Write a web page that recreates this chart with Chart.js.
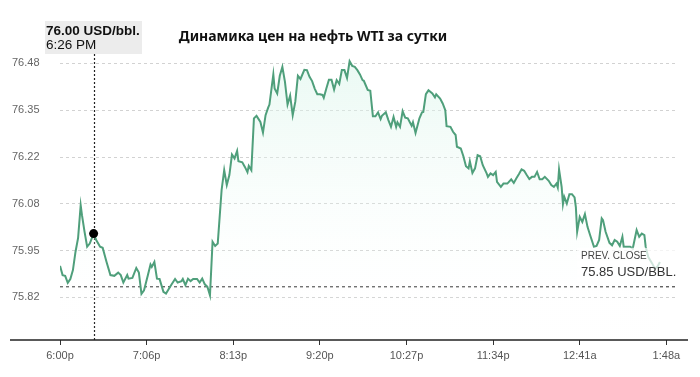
<!DOCTYPE html>
<html>
<head>
<meta charset="utf-8">
<script src="https://cdn.jsdelivr.net/npm/chart.js@4.4.0/dist/chart.umd.min.js"></script>
<style>
  html, body { margin: 0; padding: 0; background: #fff; }
  #wrap { width: 700px; height: 377px; position: relative; }
</style>
</head>
<body>
<div id="wrap"><canvas id="oilChart"></canvas></div>
<script>
// minutes after 6:00 PM
const minutes = [
  0, 2, 4, 6, 8, 10, 12, 14, 16, 17,
  19, 21, 23, 26, 28, 31, 33, 36, 39, 42,
  45, 47, 49, 52, 53, 56, 59, 61, 63, 65,
  68, 70, 71, 73, 75, 77, 80, 82, 84, 86,
  89, 91, 94, 95, 97, 99, 101, 103, 106, 108,
  110, 112, 114, 116, 118, 120, 122, 125, 127, 129,
  131, 133, 135, 137, 138, 141, 143, 145, 146, 148,
  150, 152, 155, 157, 159, 161, 162, 165, 166, 168,
  170, 172, 174, 176, 178, 180, 182, 184, 186, 189,
  191, 193, 195, 197, 199, 201, 203, 204, 206, 208,
  210, 212, 214, 216, 218, 220, 222, 224, 226, 228,
  230, 232, 234, 235, 238, 240, 242, 244, 246, 248,
  249, 252, 254, 256, 258, 260, 261, 263, 265, 267,
  269, 272, 273, 275, 278, 280, 281, 283, 285, 288,
  290, 291, 294, 296, 298, 299, 302, 304, 306, 307,
  310, 312, 314, 316, 317, 319, 321, 323, 325, 327,
  330, 331, 333, 335, 337, 338, 341, 343, 346, 349,
  351, 353, 355, 357, 359, 361, 363, 365, 367, 369,
  371, 373, 375, 378, 380, 382, 384, 385, 386, 388,
  389, 390, 392, 394, 396, 398, 399, 400, 402, 404,
  406, 408, 410, 413, 415, 417, 419, 420, 422, 425,
  427, 429, 431, 433, 435, 436, 439, 441, 443, 446,
  448, 450, 452, 453, 455, 458, 460, 462, 464
];

// USD per barrel
const prices = [
  75.909, 75.883, 75.881, 75.861, 75.872, 75.897, 75.949, 75.988, 76.080, 76.052,
  76.005, 75.963, 75.972, 76.000, 75.982, 75.963, 75.960, 75.920, 75.883, 75.881,
  75.890, 75.883, 75.862, 75.883, 75.873, 75.875, 75.903, 75.890, 75.830, 75.840,
  75.883, 75.913, 75.906, 75.920, 75.873, 75.872, 75.836, 75.831, 75.843, 75.855,
  75.872, 75.862, 75.866, 75.872, 75.855, 75.873, 75.866, 75.872, 75.872, 75.862,
  75.873, 75.857, 75.850, 75.826, 75.977, 75.965, 75.972, 76.123, 76.179, 76.137,
  76.165, 76.223, 76.212, 76.233, 76.204, 76.201, 76.188, 76.173, 76.191, 76.179,
  76.325, 76.332, 76.315, 76.285, 76.334, 76.355, 76.364, 76.449, 76.409, 76.395,
  76.445, 76.470, 76.428, 76.364, 76.389, 76.334, 76.372, 76.445, 76.436, 76.462,
  76.461, 76.442, 76.430, 76.409, 76.393, 76.393, 76.391, 76.383, 76.409, 76.434,
  76.434, 76.406, 76.433, 76.422, 76.461, 76.461, 76.439, 76.486, 76.473, 76.470,
  76.461, 76.449, 76.433, 76.431, 76.405, 76.403, 76.331, 76.331, 76.342, 76.323,
  76.332, 76.342, 76.320, 76.301, 76.329, 76.301, 76.314, 76.301, 76.345, 76.327,
  76.325, 76.304, 76.314, 76.284, 76.325, 76.342, 76.343, 76.393, 76.404, 76.395,
  76.384, 76.393, 76.381, 76.367, 76.348, 76.303, 76.301, 76.287, 76.278, 76.245,
  76.240, 76.218, 76.190, 76.184, 76.204, 76.171, 76.184, 76.221, 76.218, 76.193,
  76.170, 76.160, 76.170, 76.165, 76.174, 76.146, 76.132, 76.141, 76.141, 76.153,
  76.143, 76.156, 76.168, 76.181, 76.177, 76.165, 76.154, 76.160, 76.160, 76.174,
  76.153, 76.153, 76.160, 76.149, 76.137, 76.132, 76.141, 76.130, 76.181, 76.132,
  76.083, 76.104, 76.085, 76.111, 76.111, 76.102, 76.075, 76.005, 76.047, 76.033,
  76.055, 76.019, 75.996, 75.963, 75.965, 75.982, 76.043, 76.038, 76.005, 75.974,
  75.967, 75.982, 75.977, 75.965, 75.991, 75.963, 75.963, 75.963, 75.958, 76.010,
  75.991, 76.000, 75.996, 75.963, 75.934, 75.916, 75.902, 75.906, 75.920
];

const xTickValues = [0, 67, 134, 201, 268, 335, 402, 469];
const xTickLabels = ['6:00p', '7:06p', '8:13p', '9:20p', '10:27p', '11:34p', '12:41a', '1:48a'];
const yTickValues = [75.82, 75.952, 76.084, 76.216, 76.348, 76.48];

const chartTitle = 'Динамика цен на нефть WTI за сутки';
const prevClose = 75.85;
const activeIndex = 13;          // 6:26 PM point
const activeTimeLabel = '6:26 PM';

const fontFamily = '"Liberation Sans", Arial, sans-serif';
const lineColor = '#4f9f7b';

const overlays = {
  id: 'overlays',
  beforeDatasetsDraw(chart) {
    const { ctx, chartArea, scales } = chart;
    const pt = chart.getDatasetMeta(0).data[activeIndex];
    ctx.save();
    // previous close
    const yClose = scales.y.getPixelForValue(prevClose);
    ctx.strokeStyle = '#222';
    ctx.lineWidth = 1;
    ctx.setLineDash([3, 3]);
    ctx.beginPath();
    ctx.moveTo(chartArea.left, yClose);
    ctx.lineTo(chartArea.right, yClose);
    ctx.stroke();
    // crosshair
    ctx.setLineDash([2, 2]);
    ctx.lineWidth = 1.2;
    ctx.beginPath();
    ctx.moveTo(Math.round(pt.x) + 0.5, 54);
    ctx.lineTo(Math.round(pt.x) + 0.5, chartArea.bottom);
    ctx.stroke();
    ctx.restore();
  },
  afterDatasetsDraw(chart) {
    const { ctx, chartArea, scales } = chart;
    const yClose = scales.y.getPixelForValue(prevClose);
    ctx.save();
    // prev close label
    ctx.fillStyle = 'rgba(255,255,255,0.72)';
    ctx.fillRect(577, yClose - 39, 104, 34);
    ctx.textBaseline = 'middle';
    ctx.textAlign = 'left';
    ctx.fillStyle = '#444';
    ctx.font = '10px ' + fontFamily;
    ctx.fillText('PREV. CLOSE', 581, yClose - 31);
    ctx.fillStyle = '#333';
    ctx.font = '13px ' + fontFamily;
    ctx.fillText(prevClose.toFixed(2) + ' USD/BBL.', 581, yClose - 14.5);

    // x axis line
    ctx.strokeStyle = '#222';
    ctx.lineWidth = 1.5;
    ctx.beginPath();
    ctx.moveTo(10, chartArea.bottom);
    ctx.lineTo(688, chartArea.bottom);
    ctx.stroke();

    // tooltip box
    ctx.fillStyle = '#ececec';
    ctx.fillRect(45, 21, 97, 33);
    ctx.fillStyle = '#111';
    ctx.font = 'bold 13.5px ' + fontFamily;
    ctx.fillText(prices[activeIndex].toFixed(2) + ' USD/bbl.', 46, 31);
    ctx.font = '13.5px ' + fontFamily;
    ctx.fillText(activeTimeLabel, 46, 45.5);

    // title
    ctx.textAlign = 'center';
    ctx.fillStyle = '#111';
    ctx.font = 'bold 14px "Noto Sans", sans-serif';
    ctx.fillText(chartTitle, 313, 37);
    ctx.restore();
  }
};

const ctx = document.getElementById('oilChart').getContext('2d');

new Chart(ctx, {
  type: 'line',
  data: {
    datasets: [{
      data: minutes.map((m, i) => ({ x: m, y: prices[i] })),
      borderColor: lineColor,
      borderWidth: 2,
      tension: 0,
      fill: 'start',
      backgroundColor: (context) => {
        const { ctx, chartArea } = context.chart;
        if (!chartArea) return 'rgba(0,0,0,0)';
        const g = ctx.createLinearGradient(0, chartArea.top, 0, chartArea.bottom);
        g.addColorStop(0, 'rgba(214,244,232,0.6)');
        g.addColorStop(1, 'rgba(255,255,255,0)');
        return g;
      },
      pointRadius: (c) => c.dataIndex === activeIndex ? 4.5 : 0,
      pointBackgroundColor: '#000',
      pointBorderWidth: 0,
      pointHoverRadius: 0
    }]
  },
  options: {
    responsive: true,
    maintainAspectRatio: false,
    animation: false,
    events: [],
    layout: { padding: { left: 12, top: 35, right: 22, bottom: 0 } },
    plugins: {
      legend: { display: false },
      tooltip: { enabled: false },
      title: { display: false }
    },
    scales: {
      x: {
        type: 'linear',
        min: 0,
        max: 478,
        afterBuildTicks: (s) => { s.ticks = xTickValues.map(v => ({ value: v })); },
        afterFit: (s) => { s.height = 37; },
        ticks: {
          autoSkip: false,
          maxRotation: 0,
          padding: 4,
          color: '#555',
          font: { family: fontFamily, size: 11 },
          callback: (v, i) => xTickLabels[i]
        },
        grid: { drawOnChartArea: false, drawTicks: true, tickLength: 5, color: '#333' },
        border: { display: false }
      },
      y: {
        min: 75.70,
        max: 76.56,
        afterBuildTicks: (s) => { s.ticks = yTickValues.map(v => ({ value: v })); },
        afterFit: (s) => { s.width = 48; },
        ticks: {
          crossAlign: 'far',
          padding: 0,
          color: '#666',
          font: { family: fontFamily, size: 11 },
          callback: (v) => Number(v).toFixed(2)
        },
        grid: { color: '#d2d2d2', lineWidth: 1, drawTicks: false },
        border: { display: false, dash: [3, 3] }
      }
    }
  },
  plugins: [overlays]
});
</script>
</body>
</html>
